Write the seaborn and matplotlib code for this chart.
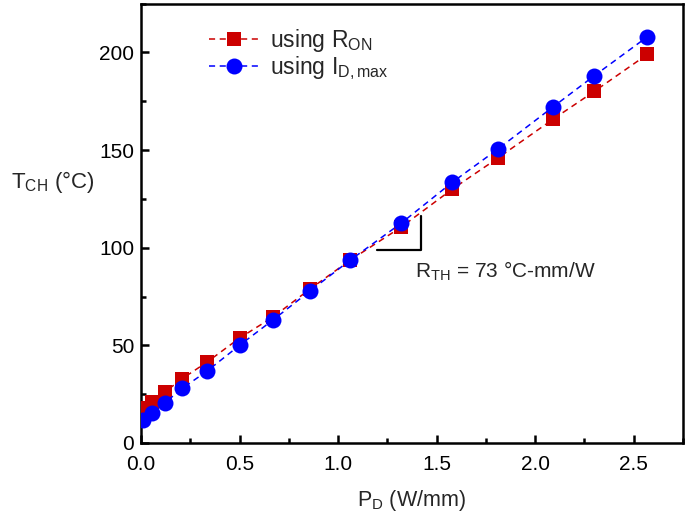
import matplotlib
matplotlib.use("Agg")
import matplotlib.pyplot as plt
from matplotlib.ticker import MultipleLocator
import seaborn as sns
import pandas as pd

# Dissipated power density (W/mm)
p_d = [0.01, 0.056, 0.12, 0.21, 0.335, 0.50, 0.67, 0.86, 1.06, 1.32, 1.58, 1.81, 2.09, 2.30, 2.57]
# Channel temperature estimated from on-resistance (°C)
t_ron = [18.0, 21.0, 26.0, 33.0, 41.4, 53.7, 64.5, 79.0, 93.5, 110.5, 130.0, 145.8, 165.7, 180.0, 199.0]
# Channel temperature estimated from maximum drain current (°C)
t_idmax = [11.8, 15.3, 20.5, 28.0, 36.8, 50.0, 63.0, 78.0, 93.5, 112.5, 133.5, 150.4, 172.0, 188.0, 208.0]

x_ticks = [0.0, 0.5, 1.0, 1.5, 2.0, 2.5]
y_ticks = [0, 50, 100, 150, 200]

sns.set_theme(style="ticks")
plt.rcParams["font.family"] = ["Liberation Sans", "DejaVu Sans"]
plt.rcParams["mathtext.fontset"] = "custom"
plt.rcParams["mathtext.rm"] = "Liberation Sans"
plt.rcParams["mathtext.it"] = "Liberation Sans:italic"

fig = plt.figure(figsize=(6.99, 5.18), dpi=100)
ax = fig.add_axes([0.2017, 0.1448, 0.7753, 0.8484])

df_ron = pd.DataFrame({"P": p_d, "T": t_ron})
df_id = pd.DataFrame({"P": p_d, "T": t_idmax})

sns.lineplot(data=df_ron, x="P", y="T", ax=ax, color="#cc0000", marker="s",
             markersize=10, markeredgewidth=0, linestyle=(0, (4, 3)), linewidth=1.1,
             label=r"using R$_\mathrm{ON}$", zorder=3)
sns.lineplot(data=df_id, x="P", y="T", ax=ax, color="#0000ff", marker="o",
             markersize=11.5, markeredgewidth=0, linestyle=(0, (4, 3)), linewidth=1.1,
             label=r"using I$_\mathrm{D,max}$", zorder=4)

ax.set_xlim(0, 2.75)
ax.set_ylim(0, 225)
ax.set_xticks(x_ticks)
ax.set_yticks(y_ticks)
ax.set_xticklabels([f"{v:.1f}" for v in x_ticks])
ax.set_yticklabels([str(v) for v in y_ticks])
ax.xaxis.set_minor_locator(MultipleLocator(0.25))
ax.yaxis.set_minor_locator(MultipleLocator(25))
ax.tick_params(which="both", direction="in", top=False, right=False, width=1.8,
               labelsize=15, colors="black", pad=5)
ax.tick_params(axis="x", which="major", pad=9)
ax.tick_params(which="major", length=6)
ax.tick_params(which="minor", length=3.5)
for s in ax.spines.values():
    s.set_linewidth(1.8)
    s.set_color("black")

ax.set_xlabel(r"P$_\mathrm{D}$ (W/mm)", fontsize=15.5, labelpad=10)
ax.set_ylabel(r"T$_\mathrm{CH}$ (°C)", fontsize=16, rotation=0, labelpad=0)
ax.yaxis.set_label_coords(-0.162, 0.565)

# slope marker for the thermal resistance
ax.plot([1.20, 1.42, 1.42], [99, 99, 116], color="black", linewidth=1.6, zorder=2)
ax.text(1.39, 88, r"R$_\mathrm{TH}$ = 73 °C-mm/W", fontsize=15, va="center", ha="left")

leg = ax.legend(loc="upper left", bbox_to_anchor=(0.095, 0.983), frameon=False,
                fontsize=16.5, handlelength=2.2, handletextpad=0.5, labelspacing=0.02,
                borderaxespad=0.3)

fig.savefig("out.png", dpi=100)
